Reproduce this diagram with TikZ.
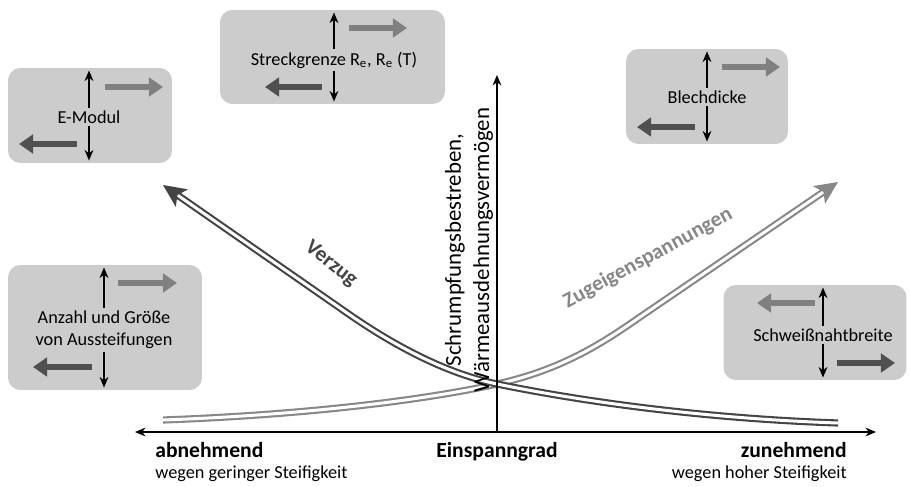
\documentclass[tikz,border=0pt]{standalone}
\usepackage{fontspec}
\setmainfont{Carlito}
\usetikzlibrary{arrows.meta,positioning}
\definecolor{boxgray}{RGB}{204,204,204}
\definecolor{lightarr}{RGB}{128,128,128}
\definecolor{darkarr}{RGB}{80,80,80}
\definecolor{verzugcol}{RGB}{68,68,68}
\definecolor{zugcol}{RGB}{135,135,135}
\tikzset{
  infobox/.style  = {fill=boxgray, rounded corners=7pt, inner sep=0pt},
  boxtext/.style  = {font=\fontsize{10.4}{12.5}\selectfont, inner sep=1.5pt, align=center},
  updown/.style   = {black, line width=1.1pt, shorten >=1.6pt, -{Stealth[length=6pt,width=5pt]}},
  fatarrow/.style = {line width=3.3pt, -{Triangle[length=8pt,width=10.5pt]}},
  axis/.style     = {black, line width=0.9pt},
  trend/.style    = {line width=1.2pt, double=white, double distance=1.7pt,
                     -{Stealth[length=13pt,width=12pt,inset=3pt]}},
  bottom/.style   = {font=\fontsize{12.3}{14}\selectfont\bfseries, inner sep=0pt},
  note/.style     = {font=\fontsize{10.4}{12.5}\selectfont, inner sep=0pt}
}
\begin{document}
\begin{tikzpicture}[x=0.02cm, y=-0.02cm]
\useasboundingbox (0,0) rectangle (910,487);

% boxes
\node[infobox, minimum width=3.28cm, minimum height=1.9cm] (emodul) at (90,115.5) {};
\node[infobox, minimum width=4.5cm, minimum height=1.88cm] (streck) at (332.5,57) {};
\node[infobox, minimum width=3.24cm, minimum height=1.9cm] (blech) at (707,96.5) {};
\node[infobox, minimum width=3.88cm, minimum height=2.5cm] (anzahl) at (105,327.5) {};
\node[infobox, minimum width=3.66cm, minimum height=1.9cm] (naht) at (815,332.5) {};

\node[boxtext] (emodul-t) at (89,117) {E-Modul};
\node[boxtext] (streck-t) at (334,60) {Streckgrenze R\textsubscript{e}, R\textsubscript{e} (T)};
\node[boxtext] (blech-t) at (707,97) {Blechdicke};
\node[boxtext] (anzahl-t) at (104,330) {Anzahl und Größe\\von Aussteifungen};
\node[boxtext] (naht-t) at (823,335) {Schweißnahtbreite};

\draw[updown] (emodul-t.north) -- (emodul.north -| emodul-t.north);
\draw[updown] (emodul-t.south) -- (emodul.south -| emodul-t.south);
\draw[updown] (streck-t.north) -- (streck.north -| streck-t.north);
\draw[updown] (streck-t.south) -- (streck.south -| streck-t.south);
\draw[updown] (blech-t.north) -- (blech.north -| blech-t.north);
\draw[updown] (blech-t.south) -- (blech.south -| blech-t.south);
\draw[updown] (anzahl-t.north) -- (anzahl.north -| anzahl-t.north);
\draw[updown] (anzahl-t.south) -- (anzahl.south -| anzahl-t.south);
\draw[updown] (naht-t.north) -- (naht.north -| naht-t.north);
\draw[updown] (naht-t.south) -- (naht.south -| naht-t.south);

\draw[fatarrow, lightarr] (105,87) -- (163,87);
\draw[fatarrow, darkarr] (77,144) -- (19,144);
\draw[fatarrow, lightarr] (349,28) -- (407,28);
\draw[fatarrow, darkarr] (322,87) -- (265,87);
\draw[fatarrow, lightarr] (722,67) -- (780,67);
\draw[fatarrow, darkarr] (695,127) -- (637,127);
\draw[fatarrow, lightarr] (118,283) -- (177,283);
\draw[fatarrow, darkarr] (92,367) -- (33,367);
\draw[fatarrow, lightarr] (815,303) -- (757,303);
\draw[fatarrow, darkarr] (837,363) -- (895,363);

% curves
\coordinate (zug-a) at (163,420);
\coordinate (zug-b) at (838,182);
\coordinate (verzug-a) at (838,423);
\coordinate (verzug-b) at (163,185);
\draw[trend, zugcol] (zug-a) .. controls (300,415) and (420,401) .. (497,384)
  .. controls (560,370) and (600,345) .. (640,317) -- (zug-b);
\draw[trend, verzugcol] (verzug-a) .. controls (720,419) and (600,405) .. (497,384)
  .. controls (440,372) and (385,340) .. (340,308) -- (verzug-b);
\node[font=\fontsize{12.2}{14}\selectfont\bfseries, text=verzugcol, rotate=-38] (verzug) at (331,264) {Verzug};
\node[font=\fontsize{12.2}{14}\selectfont\bfseries, text=zugcol, rotate=28.5] (zug) at (648,258) {Zugeigenspannungen};

% axes
\coordinate (x-left) at (135,432);
\coordinate (x-right) at (876,432);
\coordinate (origin) at (497,432);
\coordinate (y-top) at (497,75);
\draw[axis, {Stealth[length=6pt,width=5pt]}-{Stealth[length=6pt,width=5pt]}] (x-left) -- (x-right);
\draw[axis, -{Stealth[length=6pt,width=5pt]}] (origin) -- (y-top);
\node[rotate=90, align=center, font=\fontsize{13}{16}\selectfont] (ylabel) at (469,250)
  {Schrumpfungsbestreben,\\Wärmeausdehnungsvermögen};

% labels below
\node[bottom, anchor=base west] (abn) at (155,457) {abnehmend};
\node[note, anchor=base west] (abn-n) at (155,478) {wegen geringer Steifigkeit};
\node[bottom, anchor=base] (grad) at (497,457) {Einspanngrad};
\node[bottom, anchor=base east] (zun) at (847,457) {zunehmend};
\node[note, anchor=base east] (zun-n) at (847,478) {wegen hoher Steifigkeit};
\end{tikzpicture}
\end{document}
